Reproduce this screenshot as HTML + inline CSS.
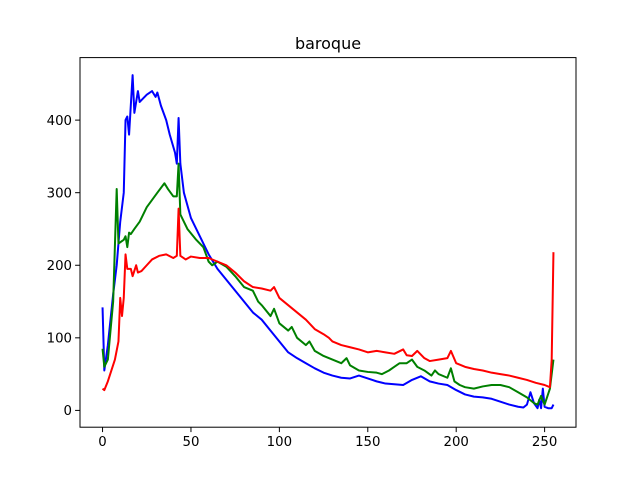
<!DOCTYPE html>
<html><head><meta charset="utf-8"><style>
body{margin:0;background:#fff;}
svg{display:block;font-family:"DejaVu Sans","Liberation Sans",sans-serif;}
</style></head><body>
<svg width="640" height="480">
<rect width="640" height="480" fill="#fff"/>
<text x="328" y="49" font-size="16" text-anchor="middle">baroque</text>
<g id="plot"></g>
<rect x="80" y="57.6" width="496" height="369.6" fill="none" stroke="#000" stroke-width="1"/>
<g id="axes"></g>
</svg>
<script>
const xTicks=[0,50,100,150,200,250];
const yTicks=[0,100,200,300,400];
const blueX=[0,1,3,6,8,10,12,13,14,15,17,18,20,21,25,28,30,31,33,36,38,41,42,43,44,46,50,55,60,65,70,75,80,85,90,95,100,105,110,115,120,125,130,135,140,145,150,155,160,165,170,175,180,185,190,195,200,205,210,215,220,225,230,235,238,240,242,244,246,247,248,249,250,252,254,255];
const blueY=[142,55,90,160,200,260,300,400,405,380,462,410,440,425,435,440,432,438,420,400,380,355,340,403,340,300,265,240,215,195,180,165,150,135,125,110,95,80,72,65,58,52,48,45,44,48,44,40,37,36,35,42,47,40,37,35,28,22,19,18,16,12,8,5,4,8,25,10,3,15,3,30,5,3,3,8];
const greenX=[0,1,3,6,8,9,12,13,14,15,16,18,21,25,28,31,35,37,40,42,43,44,48,53,57,60,62,65,70,75,80,85,88,90,95,97,100,105,107,110,115,117,120,125,130,135,138,140,145,150,155,158,162,165,168,172,175,178,182,186,188,190,195,197,199,202,205,210,215,220,225,230,235,240,244,246,248,250,253,255];
const greenY=[85,60,70,150,305,230,235,240,225,245,243,250,260,280,290,300,313,305,295,295,340,270,250,235,225,205,200,205,198,185,170,165,150,145,130,140,120,110,115,100,90,95,82,75,70,65,72,62,55,53,52,50,55,60,65,65,70,60,55,48,55,50,45,58,40,35,32,30,33,35,35,32,25,18,10,8,20,8,30,70];
const redX=[0,1,3,5,7,9,10,11,12,13,14,16,17,19,20,22,25,28,32,36,40,42,43,44,47,50,55,60,65,70,75,80,85,90,95,97,100,105,110,115,120,125,128,130,135,140,145,150,155,160,165,170,172,175,178,182,185,190,195,197,200,205,210,215,220,225,230,235,240,245,250,253,254,255];
const redY=[30,28,40,55,70,95,155,130,155,215,195,195,185,200,190,192,200,208,213,215,210,213,278,213,208,212,210,210,205,200,190,178,170,168,165,170,155,145,135,125,112,105,100,95,90,87,84,80,82,80,78,84,76,75,82,72,68,70,72,82,65,60,57,55,52,50,48,45,42,38,35,32,70,218];
const L=80,R=576,T=57.6,B=427.2,xmin=-12.75,xmax=267.75,ymin=-23.15,ymax=486.15;
function sx(v){return L+(v-xmin)/(xmax-xmin)*(R-L);}
function sy(v){return B-(v-ymin)/(ymax-ymin)*(B-T);}
const NS="http://www.w3.org/2000/svg";
const plot=document.getElementById('plot'),axes=document.getElementById('axes');
function line(xs,ys,color,name){
  const p=document.createElementNS(NS,'polyline');
  p.setAttribute('points',xs.map((x,i)=>sx(x).toFixed(2)+','+sy(ys[i]).toFixed(2)).join(' '));
  p.setAttribute('fill','none');p.setAttribute('stroke',color);p.setAttribute('stroke-width','2');
  p.setAttribute('stroke-linejoin','round');
  
  
  plot.appendChild(p);
}
line(blueX,blueY,'#0000ff','blue-channel-line');
line(greenX,greenY,'#008000','green-channel-line');
line(redX,redY,'#ff0000','red-channel-line');
xTicks.forEach(v=>{
  const x=sx(v);
  const t=document.createElementNS(NS,'line');
  t.setAttribute('x1',x);t.setAttribute('x2',x);t.setAttribute('y1',B);t.setAttribute('y2',B+4.9);t.setAttribute('stroke','#000');
  
  
  axes.appendChild(t);
  const s=document.createElementNS(NS,'text');
  s.setAttribute('x',x);s.setAttribute('y',B+19);s.setAttribute('font-size','13.3');s.setAttribute('text-anchor','middle');
  s.textContent=v;
  
  
  axes.appendChild(s);
});
yTicks.forEach(v=>{
  const y=sy(v);
  const t=document.createElementNS(NS,'line');
  t.setAttribute('x1',L-4.9);t.setAttribute('x2',L);t.setAttribute('y1',y);t.setAttribute('y2',y);t.setAttribute('stroke','#000');
  
  
  axes.appendChild(t);
  const s=document.createElementNS(NS,'text');
  s.setAttribute('x',L-8);s.setAttribute('y',y+4.8);s.setAttribute('font-size','13.3');s.setAttribute('text-anchor','end');
  s.textContent=v;
  
  
  axes.appendChild(s);
});
</script>
</body></html>
